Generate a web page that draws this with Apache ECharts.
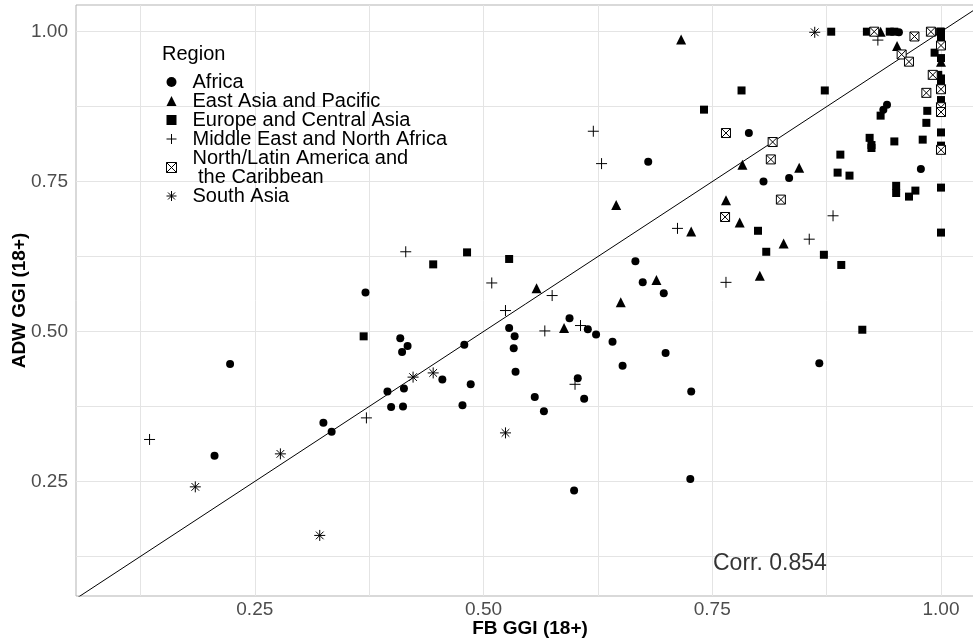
<!DOCTYPE html>
<html>
<head>
<meta charset="utf-8">
<script src="https://cdn.jsdelivr.net/npm/echarts@6/dist/echarts.min.js"></script>
<style>
html,body{margin:0;padding:0;background:#fff;}
#chart{width:973px;height:644px;}
</style>
</head>
<body>
<div id="chart"></div>
<script>
// ---- data (FB GGI, ADW GGI) ----
const africa = [[0.954,0.999],[0.941,0.878],[0.937,0.870],[0.978,0.771],[0.790,0.831],[0.806,0.750],[0.834,0.756],[0.867,0.447],[0.727,0.400],[0.666,0.617],[0.674,0.582],[0.697,0.564],[0.594,0.522],[0.614,0.504],[0.623,0.495],[0.641,0.483],[0.699,0.464],[0.652,0.443],[0.603,0.422],[0.610,0.388],[0.726,0.254],[0.599,0.235],[0.566,0.367],[0.556,0.391],[0.528,0.506],[0.534,0.492],[0.533,0.472],[0.535,0.433],[0.371,0.565],[0.409,0.489],[0.417,0.476],[0.411,0.466],[0.479,0.478],[0.455,0.420],[0.395,0.400],[0.413,0.405],[0.486,0.412],[0.399,0.374],[0.412,0.375],[0.477,0.377],[0.206,0.293],[0.223,0.446],[0.325,0.348],[0.334,0.333],[0.680,0.783]];
const eastAsiaPacific = [[0.934,1.0],[0.952,0.976],[1.0,0.950],[0.783,0.778],[0.845,0.773],[0.765,0.719],[0.780,0.682],[0.727,0.667],[0.828,0.647],[0.802,0.593],[0.689,0.586],[0.650,0.549],[0.588,0.506],[0.558,0.572],[0.716,0.987],[0.645,0.711]];
const europeCentralAsia = [[0.919,1.0],[0.944,1.0],[0.949,1.0],[0.999,1.0],[1.0,1.0],[1.0,0.990],[0.993,0.965],[1.0,0.956],[0.997,0.928],[1.0,0.922],[1.0,0.911],[1.0,0.886],[0.985,0.868],[0.934,0.860],[0.984,0.848],[1.0,0.832],[0.922,0.823],[0.924,0.811],[0.924,0.806],[0.949,0.817],[0.980,0.820],[1.0,0.810],[0.890,0.795],[0.887,0.765],[0.900,0.760],[0.951,0.743],[0.951,0.731],[0.972,0.735],[0.965,0.725],[1.0,0.740],[1.0,0.665],[0.880,1.0],[0.782,0.902],[0.873,0.902],[0.741,0.870],[0.800,0.668],[0.809,0.633],[0.872,0.628],[0.891,0.611],[0.914,0.503],[0.445,0.612],[0.482,0.632],[0.528,0.621],[0.369,0.492]];
const middleEastNorthAfrica = [[0.931,0.986],[0.882,0.693],[0.856,0.654],[0.765,0.582],[0.415,0.633],[0.509,0.581],[0.575,0.560],[0.524,0.535],[0.567,0.501],[0.606,0.510],[0.600,0.412],[0.372,0.356],[0.135,0.320],[0.620,0.834],[0.629,0.780],[0.712,0.672]];
const northLatinAmerica = [[0.927,1.0],[0.957,0.962],[0.965,0.950],[0.971,0.992],[0.989,1.0],[1.0,0.977],[1.0,0.904],[0.984,0.898],[1.0,0.874],[1.0,0.866],[1.0,0.803],[0.765,0.831],[0.816,0.816],[0.814,0.787],[0.825,0.720],[0.764,0.691],[0.991,0.928]];
const southAsia = [[0.862,0.999],[0.423,0.424],[0.445,0.431],[0.524,0.331],[0.185,0.241],[0.278,0.296],[0.321,0.160]];

const regionNames = ['Africa','East Asia and Pacific','Europe and Central Asia','Middle East and North Africa','North/Latin America and\n the Caribbean','South Asia'];
const xTickValues = [0.25,0.50,0.75,1.00];
const yTickValues = [0.25,0.50,0.75,1.00];
const gridValues = [0.125,0.25,0.375,0.5,0.625,0.75,0.875,1.0];
const diagLine = [[0,0],[1.2,1.2]];
const corrLabel = [[0.813,0.113]];
const corrText = 'Corr. 0.854';

const PLUS = 'path://M5,0L5,10M0,5L10,5';
const BOXX = 'path://M0,0L10,0L10,10L0,10ZM0,0L10,10M10,0L0,10';
const STAR = 'path://M5,0L5,10M0,5L10,5M1.5,1.5L8.5,8.5M8.5,1.5L1.5,8.5';

const symbols = [
  {symbol:'circle', size:8, style:{color:'#000'}},
  {symbol:'triangle', size:10, style:{color:'#000'}},
  {symbol:'rect', size:8, style:{color:'#000'}},
  {symbol:PLUS, size:11, style:{color:'rgba(0,0,0,0)', borderColor:'#000', borderWidth:1}},
  {symbol:BOXX, size:9, style:{color:'#fff', borderColor:'#000', borderWidth:1}},
  {symbol:STAR, size:11, style:{color:'rgba(0,0,0,0)', borderColor:'#000', borderWidth:1}}
];
const seriesData = [africa, eastAsiaPacific, europeCentralAsia, middleEastNorthAfrica, northLatinAmerica, southAsia];

const FONT = '"Liberation Sans", Arial, Helvetica, sans-serif';
const chart = echarts.init(document.getElementById('chart'), null, {renderer:'canvas'});

const series = [];
series.push({
  type:'line', data: diagLine, symbol:'none', silent:true, clip:true,
  lineStyle:{color:'#000', width:1}, z:1
});
seriesData.forEach((d,i)=>{
  series.push({
    name: regionNames[i], type:'scatter', data:d,
    symbol: symbols[i].symbol, symbolSize: symbols[i].size,
    itemStyle: Object.assign({opacity:1}, symbols[i].style),
    z:2
  });
});
series.push({
  type:'scatter', data: corrLabel, symbolSize:0, silent:true,
  label:{show:true, position:'inside', formatter: corrText, fontSize:23, color:'#000', fontFamily:FONT}
});

chart.setOption({
  animation:false,
  backgroundColor:'#fff',
  textStyle:{fontFamily:FONT},
  grid:{left:76, right:-11, top:5, bottom:48, outerBoundsMode:'none', containLabel:false, show:true, borderColor:'#b3b3b3', borderWidth:1, backgroundColor:'#fff'},
  xAxis:{
    type:'value', min:0.0546, max:1.047,
    name:'FB GGI (18+)', nameLocation:'middle', nameGap:23, nameMoveOverlap:false,
    nameTextStyle:{fontSize:19, fontWeight:'bold', color:'#000', fontFamily:FONT},
    axisLine:{show:false},
    axisTick:{show:false, customValues: gridValues},
    axisLabel:{customValues: xTickValues, formatter:v=>v.toFixed(2), fontSize:19, color:'#4d4d4d', margin:4, fontFamily:FONT},
    splitLine:{show:true, lineStyle:{color:'#e4e4e4', width:1}}
  },
  yAxis:{
    type:'value', min:0.059, max:1.0445,
    name:'ADW GGI (18+)', nameLocation:'middle', nameGap:47, nameMoveOverlap:false,
    nameTextStyle:{fontSize:19, fontWeight:'bold', color:'#000', fontFamily:FONT},
    axisLine:{show:false},
    axisTick:{show:false, customValues: gridValues},
    axisLabel:{customValues: yTickValues, formatter:v=>v.toFixed(2), fontSize:19, color:'#4d4d4d', margin:8, fontFamily:FONT},
    splitLine:{show:true, lineStyle:{color:'#e4e4e4', width:1}}
  },
  legend:{
    orient:'vertical', left:166, top:72, padding:0, itemGap:-1, itemWidth:10, itemHeight:10,
    selectedMode:false,
    data: regionNames.map((n,i)=>({name:n, icon:symbols[i].symbol, itemStyle: symbols[i].style})),
    textStyle:{fontSize:20, color:'#000', lineHeight:19, padding:[0,0,0,11], fontFamily:FONT}
  },
  graphic:[{type:'text', left:162, top:44, style:{text:'Region', fontSize:20, fill:'#000', fontFamily:FONT}}],
  series: series
});
</script>
</body>
</html>
